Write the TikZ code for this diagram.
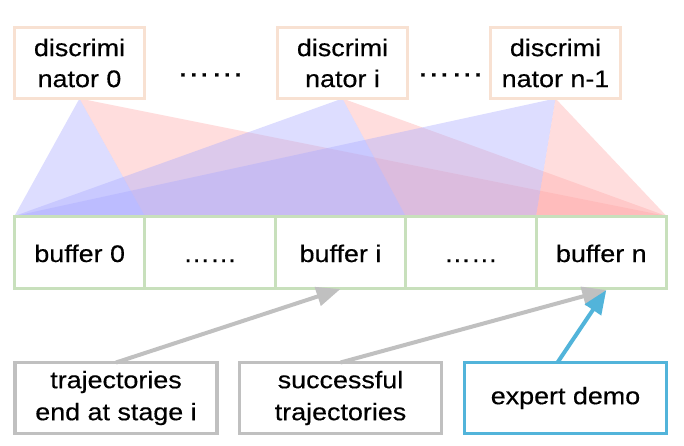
\documentclass[tikz,border=0pt]{standalone}
\usepackage{fontspec}
\setmainfont{Liberation Sans}[FakeStretch=1.12,FakeBold=0.4]
\usetikzlibrary{arrows.meta,backgrounds}
\definecolor{discc}{RGB}{248,225,210}
\definecolor{bufc}{RGB}{200,224,188}
\definecolor{grayc}{RGB}{192,192,192}
\definecolor{bluec}{RGB}{82,180,218}
\definecolor{trib}{RGB}{170,170,255}
\definecolor{trir}{RGB}{255,170,170}
\begin{document}
\begin{tikzpicture}[x=1pt,y=-1pt,
  every node/.style={font=\fontsize{24}{31}\selectfont, inner sep=0pt, outer sep=0pt},
  discbox/.style={draw=discc, line width=3pt, fill=white, minimum width=130pt, minimum height=71pt, align=center},
  bufbox/.style={draw=bufc, line width=3pt, minimum width=130.4pt, minimum height=72pt, text height=20pt, text depth=0pt},
  srcbox/.style={draw=grayc, line width=3.5pt, fill=white, minimum width=202pt, minimum height=71pt, align=center, font=\fontsize{24}{32}\selectfont},
  demobox/.style={srcbox, draw=bluec},
  dotsnode/.style={font=\fontsize{30}{30}\selectfont, anchor=base},
  bluetri/.style={fill=trib, fill opacity=0.4},
  redtri/.style={fill=trir, fill opacity=0.4},
  grayarrow/.style={draw=grayc, line width=4pt, -{Triangle[length=24pt,width=19pt]}},
  bluearrow/.style={draw=bluec, line width=4pt, -{Triangle[length=24pt,width=19pt]}}
]
\useasboundingbox (0,0) rectangle (684,446);

% discriminators
\node[discbox] (d0) at (79.5,63) {discrimi\\nator 0};
\node[discbox] (di) at (342.5,63) {discrimi\\nator i};
\node[discbox] (dn) at (555.5,63) {discrimi\\nator n-1};
\node[dotsnode] (e1) at (210.5,76.5) {……};
\node[dotsnode] (e2) at (450.5,76.5) {……};

% buffers
\node[bufbox] (b0) at (79.7,252) {buffer 0};
\node[bufbox] (b1) at (210.1,252) {……};
\node[bufbox] (b2) at (340.5,252) {buffer i};
\node[bufbox] (b3) at (470.9,252) {……};
\node[bufbox] (b4) at (601.3,252) {buffer n};

% sources
\node[srcbox] (t1) at (116,398) {trajectories\\end at stage i};
\node[srcbox] (t2) at (340.5,398) {successful\\trajectories};
\node[demobox] (t3) at (565.5,398) {expert demo};

% triangles
\begin{pgfonlayer}{background}
\fill[bluetri] (d0.south) -- (b0.north west) -- (b0.north east) -- cycle;
\fill[redtri] (d0.south) -- (b0.north east) -- (b4.north east) -- cycle;
\fill[bluetri] (di.south) -- (b0.north west) -- (b2.north east) -- cycle;
\fill[redtri] (di.south) -- (b2.north east) -- (b4.north east) -- cycle;
\fill[bluetri] (dn.south) -- (b0.north west) -- (b3.north east) -- cycle;
\fill[redtri] (dn.south) -- (b3.north east) -- (b4.north east) -- cycle;
\end{pgfonlayer}

% arrows
\draw[grayarrow] (t1.north) -- ([yshift=-1pt]b2.south);
\draw[grayarrow] (t2.north) -- ([xshift=5pt,yshift=-2pt]b4.south);
\draw[bluearrow] ([xshift=-8pt]t3.north) -- ([xshift=5pt,yshift=-2pt]b4.south);
\end{tikzpicture}
\end{document}
